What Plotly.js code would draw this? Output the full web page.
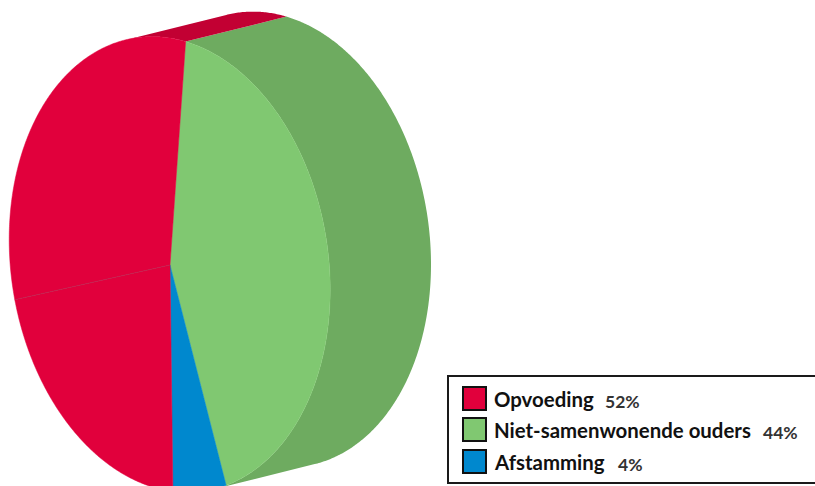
<!DOCTYPE html>
<html>
<head>
<meta charset="utf-8">
<script src="https://cdn.plot.ly/plotly-3.0.1.min.js"></script>
<style>html,body{margin:0;padding:0;background:#fff}#c{width:815px;height:486px}</style>
</head>
<body>
<div id="c"></div>
<script>
// Legend
var categories = ["Opvoeding", "Niet-samenwonende ouders", "Afstamming"];
var percentages = [52, 44, 4];
var faceColors = ["#E1003C", "#80C871", "#0088CE"];
var sideColors = ["#C20033", "#6EAB60", "#0078B6"];

// Share of the drawn disc each wedge takes, clockwise from the top green edge,
// as read from the picture (the oblique view distorts the angles)
var wedgeCategory = [1, 2, 0, 0];
var wedgeShare = [42.7, 5.4, 21.1, 30.8];

// Oblique projection of the disc
var apexX = 170, apexY = 265;
var cx = 169.7, cy = 264.5, rx = 160.5, ry = 226.5, shear = 25;
var depthX = 100.8, depthY = -25;
var startDeg = -84.3;

function pt(deg, back) {
  var t = deg * Math.PI / 180;
  return [cx + rx * Math.cos(t) + (back ? depthX : 0),
          cy + shear * Math.cos(t) + ry * Math.sin(t) + (back ? depthY : 0)];
}
function arc(a, b, back) {
  var out = [], n = Math.max(2, Math.ceil(Math.abs(b - a) * 2));
  for (var i = 0; i <= n; i++) out.push(pt(a + (b - a) * i / n, back));
  return out;
}
function poly(points, color, line) {
  return {
    type: "scatter", mode: "lines", fill: "toself", fillcolor: color,
    x: points.map(function (p) { return p[0]; }),
    y: points.map(function (p) { return p[1]; }),
    line: {width: line || 0, color: color, simplify: false},
    hoverinfo: "skip", showlegend: false
  };
}

// Wedge boundaries
var bounds = [startDeg];
wedgeShare.forEach(function (s, i) { bounds.push(bounds[i] + s * 3.6); });

// Side wall visible between the two silhouette tangents
var tangentTop = -106, tangentBottom = 74;
var traces = [];
traces.push(poly(arc(startDeg, tangentBottom, false).concat(arc(tangentBottom, startDeg, true)), sideColors[1]));
traces.push(poly(arc(tangentTop, startDeg, false).concat(arc(startDeg, tangentTop, true)), sideColors[0]));

// Front face
wedgeShare.forEach(function (s, i) {
  var pts = [[apexX, apexY]].concat(arc(bounds[i], bounds[i + 1], false));
  pts.push([apexX, apexY]);
  traces.push(poly(pts, faceColors[wedgeCategory[i]], 0.5));
});

// Faint seam between the two red wedges
var seam = pt(bounds[3], false);
traces.push({
  type: "scatter", mode: "lines", x: [apexX, seam[0]], y: [apexY, seam[1]],
  line: {width: 0.7, color: "rgba(150,70,100,0.55)"},
  hoverinfo: "skip", showlegend: false
});

// Legend box
var shapes = [{type: "rect", xref: "x", yref: "y", x0: 448, x1: 816, y0: 376, y1: 483,
  line: {color: "#1a1a1a", width: 2}, fillcolor: "#fff"}];
var annotations = [];
var swatchTop = [387, 418, 450];
var pctX = [604, 762, 617];
var labelFont = "Lato, 'Liberation Sans', sans-serif";
categories.forEach(function (name, i) {
  shapes.push({type: "rect", xref: "x", yref: "y", x0: 463, x1: 486, y0: swatchTop[i], y1: swatchTop[i] + 23,
    line: {color: "#111", width: 2}, fillcolor: faceColors[i]});
  annotations.push({xref: "x", yref: "y", x: 493, y: swatchTop[i] + 12, xanchor: "left", yanchor: "middle",
    showarrow: false, text: "<b>" + name + "</b>", font: {family: labelFont, size: 20.4, color: "#111"}, borderpad: 0});
  annotations.push({xref: "x", yref: "y", x: pctX[i], y: swatchTop[i] + 14, xanchor: "left", yanchor: "middle",
    showarrow: false, text: "<b>" + percentages[i] + "%</b>", font: {family: labelFont, size: 17.5, color: "#333"}, borderpad: 0});
});

Plotly.newPlot("c", traces, {
  width: 815, height: 486,
  margin: {l: 0, r: 0, t: 0, b: 0, pad: 0},
  paper_bgcolor: "#fff", plot_bgcolor: "#fff",
  xaxis: {range: [0, 815], visible: false, fixedrange: true},
  yaxis: {range: [486, 0], visible: false, fixedrange: true},
  shapes: shapes, annotations: annotations, showlegend: false
}, {displayModeBar: false, staticPlot: true});
</script>
</body>
</html>
